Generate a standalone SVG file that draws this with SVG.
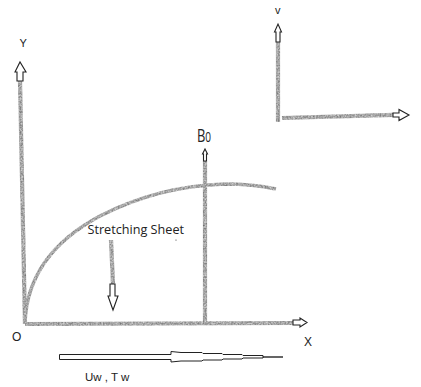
<svg xmlns="http://www.w3.org/2000/svg" width="421" height="387" viewBox="0 0 421 387">
<style>
.ln{fill:none;stroke:#000;stroke-width:4.200}
.thin{stroke-width:3.600}
.ar{fill:#fff;stroke:#222;stroke-width:1.1;stroke-linejoin:miter}
.t{font-family:"Liberation Sans",Arial,sans-serif;fill:#222}
.s{font-family:"Open Sans","Liberation Sans",sans-serif;fill:#222}
</style>
<defs>
<filter id="pencil" filterUnits="userSpaceOnUse" x="0" y="0" width="421" height="387" color-interpolation-filters="sRGB">
<feTurbulence type="fractalNoise" baseFrequency="0.6" numOctaves="2" seed="4" result="n"/>
<feColorMatrix in="n" type="matrix" values="0.55 0 0 0 0.38  0.55 0 0 0 0.38  0.55 0 0 0 0.38  0 0 0 0 1" result="g"/>
<feGaussianBlur in="SourceAlpha" stdDeviation="0.5" result="a"/>
<feComposite in="g" in2="a" operator="in"/>
</filter>
</defs>
<rect width="421" height="387" fill="#fff"/>
<g id="connectors" filter="url(#pencil)">
<path class="ln" d="M20 81L25 324"/>
<path class="ln" d="M25 324L293 323"/>
<path class="ln" d="M205 161V325"/>
<path class="ln thin" d="M25 322C27 275 55 240 100 216C145 193 190 185 225 184C245 184 262 186 276 189"/>
<path class="ln" d="M111 240L113 284"/>
<path class="ln" d="M278 42V122"/>
<path class="ln" d="M282 118L394 114.800"/>
</g>
<g id="arrow-y"><path class="ar" d="M17 81V72H15L20 62L26 72H23V81Z"/></g>
<g id="arrow-v"><path class="ar" d="M276 42V32H274.500L278 24L281.500 32H280V42Z"/></g>
<g id="arrow-right"><path class="ar" d="M393 113H399V109.500L409 115L399 120.500V117H393Z"/></g>
<g id="arrow-b0"><path class="ar" d="M203.500 161V154H202.500L205 149L207.500 154H206.500V161Z"/></g>
<g id="arrow-down"><path class="ar" d="M110 284V296H108L113 310L118 296H115V284Z"/></g>
<g id="arrow-x"><path class="ar" d="M293 320H300V318L307 322.500L300 327V325H293Z"/></g>
<g id="needle">
<path fill="#fff" stroke="#222" stroke-width="1" d="M59.500 354.500H171V351.500L181 352.500H202L203 353.500H222L223 354.500H242L243 355.500H263V358H243L242 359H223L222 360H203L202 361H181L171 362V359.500H59.500Z"/>
<path fill="none" stroke="#111" stroke-width="1.300" d="M263 357H283"/>
</g>
<g id="labels">
<text class="t" x="19.500" y="47" font-size="11">Y</text>
<text class="t" x="275" y="14" font-size="11">v</text>
<text class="s" transform="translate(197 142) scale(.72 1)" font-size="18">B<tspan font-size="14">0</tspan></text>
<text class="s" x="87.500" y="234" font-size="13" textLength="96.500" lengthAdjust="spacingAndGlyphs">Stretching Sheet</text>
<text class="t" x="12" y="341" font-size="12">O</text>
<text class="t" x="304" y="346" font-size="12">X</text>
<text class="t" x="85" y="381" font-size="11.500">Uw , T w</text>
</g>
<circle cx="176" cy="240" r="0.600" fill="#333"/>
</svg>
